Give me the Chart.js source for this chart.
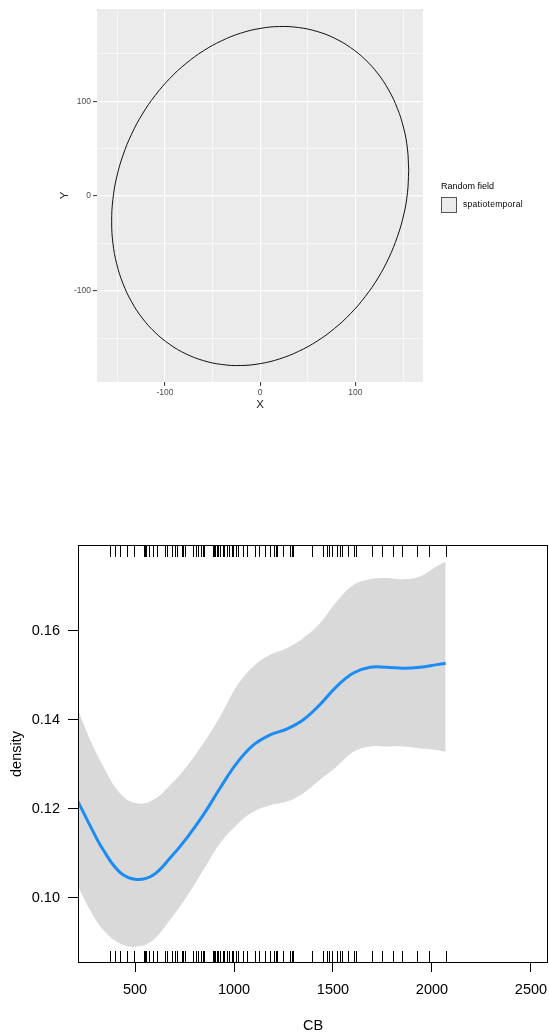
<!DOCTYPE html>
<html><head><meta charset="utf-8">
<script src="https://cdn.jsdelivr.net/npm/chart.js@4/dist/chart.umd.min.js"></script>
<style>
html,body{margin:0;padding:0;background:#fff;}
#wrap{position:relative;width:549px;height:1035px;overflow:hidden;font-family:"Liberation Sans",Arial,sans-serif;}
#c1{position:absolute;left:0;top:0;}
#c2{position:absolute;left:0;top:420px;}
.lg-title{position:absolute;left:441px;top:180px;font-size:9px;line-height:12px;color:#000;white-space:nowrap;}
.lg-box{position:absolute;left:441px;top:197px;width:14px;height:14px;border:1px solid #555;background:#ebebeb;}
.lg-label{position:absolute;left:463px;top:199px;font-size:8.5px;letter-spacing:0.3px;line-height:11px;color:#000;white-space:nowrap;}
</style></head><body>
<div id="wrap">
<canvas id="c1" width="549" height="420"></canvas>
<div class="lg-title">Random field</div>
<div class="lg-box"></div>
<div class="lg-label">spatiotemporal</div>
<canvas id="c2" width="549" height="615"></canvas>
</div>
<script>
// ---------- Top chart data (random field contour) ----------
const ellipseX = [156, 154.7, 150.7, 144.1, 135.1, 123.8, 110.3, 95, 78, 59.7, 40.4, 20.4, 0, -20.4, -40.4, -59.7, -78, -95, -110.3, -123.8, -135.1, -144.1, -150.7, -154.7,
                  -156, -154.7, -150.7, -144.1, -135.1, -123.8, -110.3, -95, -78, -59.7, -40.4, -20.4, 0, 20.4, 40.4, 59.7, 78, 95, 110.3, 123.8, 135.1, 144.1, 150.7, 154.7, 156];
const ellipseY = [26.8, 49.6, 71.7, 92.5, 111.7, 129, 144.1, 156.7, 166.7, 173.8, 177.9, 179, 177, 172, 164, 153.3, 139.9, 124.1, 106.2, 86.5, 65.3, 43, 20, -3.4,
                  -26.8, -49.6, -71.7, -92.5, -111.7, -129, -144.1, -156.7, -166.7, -173.8, -177.9, -179, -177, -172, -164, -153.3, -139.9, -124.1, -106.2, -86.5, -65.3, -43, -20, 3.4, 26.8];
const topXTicks = [-150, -100, -50, 0, 50, 100, 150];
const topYTicks = [-150, -100, -50, 0, 50, 100, 150];
const topMajor = [-100, 0, 100];

// ---------- Bottom chart data (effect of CB on density) ----------
const cbGrid = [212, 273, 340, 424, 508, 592, 677, 761, 845, 929, 1013, 1097, 1182, 1266, 1350, 1434, 1519, 1603, 1687, 1771, 1855, 1939, 2024, 2069];
const densityFit = [0.1216, 0.1162, 0.1107, 0.1057, 0.1041, 0.1051, 0.1089, 0.1134, 0.1186, 0.1246, 0.1302, 0.1343, 0.1366, 0.1379, 0.1400, 0.1434, 0.1475, 0.1505, 0.1518, 0.1518, 0.1516, 0.1518, 0.1524, 0.1527];
const densityUpper = [0.1422, 0.1355, 0.1295, 0.1235, 0.1212, 0.1220, 0.1253, 0.1295, 0.1347, 0.1407, 0.1475, 0.1520, 0.1546, 0.1561, 0.1584, 0.1617, 0.1666, 0.1703, 0.1716, 0.1719, 0.1716, 0.1722, 0.1745, 0.1756];
const densityLower = [0.1025, 0.0972, 0.0927, 0.0897, 0.0890, 0.0905, 0.0950, 0.1002, 0.1062, 0.1122, 0.1163, 0.1193, 0.1208, 0.1216, 0.1235, 0.1265, 0.1295, 0.1328, 0.1340, 0.1340, 0.1340, 0.1336, 0.1332, 0.1328];
const rugCB = [374, 399, 424, 458, 496, 545, 550, 556, 572, 593, 613, 651, 660, 685, 702, 710, 736, 740, 744, 752, 795, 808, 820, 832, 842, 848, 892, 899, 905, 912, 921, 929, 943, 951, 963, 976, 988, 997, 1009, 1022, 1047, 1064, 1106, 1128, 1157, 1182, 1202, 1212, 1219, 1249, 1283, 1292, 1296, 1392, 1451, 1471, 1481, 1493, 1522, 1535, 1547, 1577, 1606, 1616, 1698, 1746, 1801, 1850, 1923, 1985, 2069];
const bottomXTicks = [500, 1000, 1500, 2000, 2500];
const bottomYTicks = [0.10, 0.12, 0.14, 0.16];

const FONT = '"Liberation Sans", Arial, sans-serif';

// ---------- Top chart ----------
const panelBg = {
  id: 'panelBg',
  beforeDraw(chart) {
    const a = chart.chartArea, ctx = chart.ctx;
    ctx.save();
    ctx.fillStyle = '#ebebeb';
    ctx.fillRect(a.left, a.top, a.right - a.left, a.bottom - a.top);
    ctx.restore();
  }
};
const isMajor = v => topMajor.includes(v);
const gridOpts = {
  color: '#ffffff',
  lineWidth: c => (c.tick && isMajor(c.tick.value)) ? 1.2 : 0.6,
  tickColor: c => (c.tick && isMajor(c.tick.value)) ? '#333333' : 'rgba(0,0,0,0)',
  tickWidth: 1,
  tickLength: 4,
  drawTicks: true
};
new Chart(document.getElementById('c1'), {
  type: 'line',
  data: {
    datasets: [{
      data: ellipseX.map((x, i) => ({ x: x, y: ellipseY[i] })),
      borderColor: '#111111',
      borderWidth: 1,
      pointRadius: 0,
      tension: 0.4,
      fill: false
    }]
  },
  options: {
    responsive: false,
    animation: false,
    devicePixelRatio: 1,
    layout: { padding: { left: 0, top: 9, right: 126, bottom: 8 } },
    plugins: { legend: { display: false }, tooltip: { enabled: false } },
    scales: {
      x: {
        type: 'linear', min: -171.4, max: 171.0,
        afterBuildTicks: s => { s.ticks = topXTicks.map(v => ({ value: v })); },
        afterFit: s => { s.height = 30; s.paddingLeft = 0; s.paddingRight = 0; },
        border: { display: false },
        grid: gridOpts,
        ticks: { padding: 2, color: '#4d4d4d', font: { family: FONT, size: 8.5 }, maxRotation: 0, autoSkip: false,
                 callback: v => isMajor(v) ? String(v) : '' },
        title: { display: true, text: 'X', color: '#222', font: { family: FONT, size: 11.5 }, padding: { top: 0, bottom: 0 } }
      },
      y: {
        type: 'linear', min: -196.4, max: 197.5,
        afterBuildTicks: s => { s.ticks = topYTicks.map(v => ({ value: v })); },
        afterFit: s => { s.width = 97; s.paddingTop = 0; s.paddingBottom = 0; },
        border: { display: false },
        grid: gridOpts,
        ticks: { padding: 2, color: '#4d4d4d', font: { family: FONT, size: 8.5 }, autoSkip: false,
                 callback: v => isMajor(v) ? String(v) : '' },
        title: { display: true, text: 'Y', color: '#222', font: { family: FONT, size: 11.5 }, padding: { top: 58, bottom: 0 } }
      }
    }
  },
  plugins: [panelBg]
});

// ---------- Bottom chart ----------
const frameRug = {
  id: 'frameRug',
  afterDatasetsDraw(chart) {
    const a = chart.chartArea, ctx = chart.ctx, xs = chart.scales.x;
    ctx.save();
    ctx.strokeStyle = '#000';
    ctx.lineWidth = 1;
    ctx.beginPath();
    for (const v of rugCB) {
      const px = Math.round(xs.getPixelForValue(v)) + 0.5;
      ctx.moveTo(px, a.top); ctx.lineTo(px, a.top + 12);
      ctx.moveTo(px, a.bottom); ctx.lineTo(px, a.bottom - 12);
    }
    ctx.stroke();
    ctx.strokeRect(a.left + 0.5, a.top + 0.5, a.right - a.left - 1, a.bottom - a.top - 1);
    ctx.restore();
  }
};
new Chart(document.getElementById('c2'), {
  type: 'line',
  data: {
    datasets: [
      { data: cbGrid.map((x, i) => ({ x: x, y: densityFit[i] })), order: 0, borderWidth: 3, borderColor: '#1b8cf5', pointRadius: 0, tension: 0.4, fill: false },
      { data: cbGrid.map((x, i) => ({ x: x, y: densityLower[i] })), order: 2, borderWidth: 0, borderColor: 'rgba(0,0,0,0)', pointRadius: 0, tension: 0.4, fill: false },
      { data: cbGrid.map((x, i) => ({ x: x, y: densityUpper[i] })), order: 1, borderWidth: 0, borderColor: 'rgba(0,0,0,0)', pointRadius: 0, tension: 0.4, fill: 1, backgroundColor: '#d9d9d9' }
    ]
  },
  options: {
    responsive: false,
    animation: false,
    devicePixelRatio: 1,
    layout: { padding: { left: 0, top: 125, right: 1, bottom: 0 } },
    plugins: { legend: { display: false }, tooltip: { enabled: false }, filler: { drawTime: 'beforeDatasetsDraw' } },
    scales: {
      x: {
        type: 'linear', min: 212, max: 2586,
        afterBuildTicks: s => { s.ticks = bottomXTicks.map(v => ({ value: v })); },
        afterFit: s => { s.height = 72; s.paddingLeft = 0; s.paddingRight = 0; },
        border: { display: false },
        grid: { drawOnChartArea: false, drawTicks: true, tickLength: 9, color: '#000', tickWidth: 1 },
        ticks: { padding: 9, color: '#000', font: { family: FONT, size: 14.5 }, maxRotation: 0, autoSkip: false, callback: v => String(v) },
        title: { display: true, text: 'CB', color: '#000', font: { family: FONT, size: 14.5 }, padding: { top: 0, bottom: 0 } }
      },
      y: {
        type: 'linear', min: 0.0853, max: 0.1793,
        afterBuildTicks: s => { s.ticks = bottomYTicks.map(v => ({ value: v })); },
        afterFit: s => { s.width = 78; s.paddingTop = 0; s.paddingBottom = 0; },
        border: { display: false },
        grid: { drawOnChartArea: false, drawTicks: true, tickLength: 10, color: '#000', tickWidth: 1 },
        ticks: { padding: 8, color: '#000', font: { family: FONT, size: 14.5 }, autoSkip: false, callback: v => v.toFixed(2) },
        title: { display: true, text: 'density', color: '#000', font: { family: FONT, size: 14.5 }, padding: { top: 8, bottom: 0 } }
      }
    }
  },
  plugins: [frameRug]
});
</script>
</body></html>
